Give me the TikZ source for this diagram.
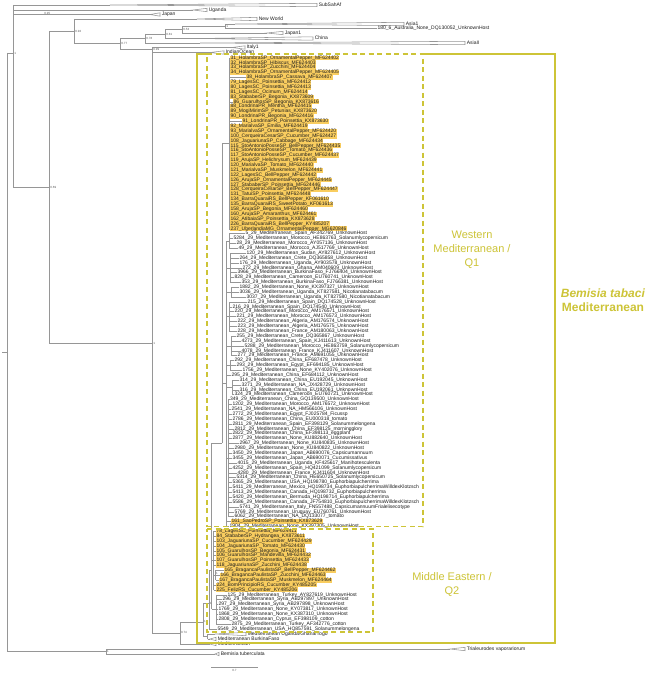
\documentclass[tikz,border=0pt]{standalone}
\usepackage{fontspec}
\setmainfont{Liberation Sans}
\usetikzlibrary{calc}
\definecolor{boxc}{RGB}{205,196,55}
\definecolor{hlc}{RGB}{249,205,95}
\definecolor{brc}{RGB}{150,150,150}
\definecolor{txc}{RGB}{30,30,30}
\tikzset{
  br/.style={draw=brc, line width=0.55pt},
  lab/.style={anchor=west, font=\fontsize{5}{5}\selectfont, text=txc, inner xsep=0.4pt, inner ysep=0pt, text height=3.65pt, text depth=1.25pt},
  hl/.style={lab, fill=hlc},
  suplab/.style={anchor=west, font=\fontsize{3}{3}\selectfont, text=brc!60!black, inner sep=0.2pt},
  cladetri/.style={draw=brc, line width=0.55pt, fill=white},
  solidbox/.style={draw=boxc, line width=1.4pt},
  dashbox/.style={draw=boxc, line width=1.4pt, dash pattern=on 5pt off 3.5pt},
  bigtext/.style={text=boxc, font=\fontsize{11}{14}\selectfont, align=center},
}
\newcommand\tip[6]{\node[#5] (#1) at (#3,{58+4.88*(#4-1)}) {#6};\draw[br] (#1.west -| #2) -- (#1.west);}
\newcommand\grp[4]{\draw[br] (#3.west -| #2) -- (#4.west -| #2);\coordinate (#1) at ($(#3.west -| #2)!.5!(#4.west -| #2)$);}
\newcommand\clade[5]{\coordinate (#1a) at (#2,#4);\node[lab] (#1) at ({#3+1.2},#4) {#5};\draw[cladetri] (#1a) -- ({#3},{#4-1.7}) -- ({#3},{#4+1.7}) -- cycle;}
\catcode`\_=12
\begin{document}
\begin{tikzpicture}[x=1pt,y=-1pt]
\useasboundingbox (0,0) rectangle (660,674);
\fill[white] (0,0) rectangle (660,674);
% ---------- top of tree ----------
\draw[br] (2,352) -- (7,352);
\draw[br] (7,53) -- (7,651.5);
\draw[br] (7,53) -- (13,53);
\node[suplab] at (14,53) {1};
\draw[br] (13,5) -- (13,187);
\clade{sub}{110}{317}{5}{SubSahAf}
\draw[br] (13,5) -- (suba);
\clade{uga}{193}{207}{10}{Uganda}
\draw[br] (13,10) -- (ugaa);
\clade{jap}{150}{160}{14.5}{Japan}
\draw[br] (13,14.5) -- (japa);
\node[suplab, anchor=south west] at (44,14.6) {0.95};
\draw[br] (13,187) -- (49,187);
\node[suplab] at (50,187) {0.69};
\draw[br] (49,31.4) -- (49,343);
\draw[br] (49,31.4) -- (74,31.4);
\node[suplab] at (75,31.4) {0.92};
\draw[br] (74,19) -- (74,43.75);
\clade{nw}{197}{257}{19}{New World}
\draw[br] (74,19) -- (nwa);
\draw[br] (74,43.75) -- (120,43.75);
\node[suplab] at (121,43.75) {0.77};
\draw[br] (120,38.5) -- (120,49);
\draw[br] (120,38.5) -- (145,38.5);
\node[suplab] at (146,38.5) {0.78};
\draw[br] (145,34) -- (145,43);
\clade{asb}{200}{465}{43}{AsiaII}
\draw[br] (145,43) -- (asba);
\draw[br] (145,34) -- (165,34);
\node[suplab] at (166,34) {0.81};
\draw[br] (165,29.6) -- (165,38.5);
\clade{chi}{200}{313}{38.5}{China}
\draw[br] (165,38.5) -- (chia);
\draw[br] (165,29.6) -- (182,29.6);
\node[suplab] at (183,29.6) {0.53};
\draw[br] (182,26.25) -- (182,33);
\clade{jpo}{267}{283}{33}{Japan1}
\draw[br] (182,33) -- (jpoa);
\draw[br] (182,26.25) -- (225,26.25);
\node[suplab] at (226,26.25) {1};
\draw[br] (225,24) -- (225,28.5);
\clade{aso}{235}{404}{24}{Asia1}
\draw[br] (225,24) -- (asoa);
\node[lab] (aus) at (377,28.5) {180_6_Australia_None_DQ130052_UnknownHost};
\draw[br] (225,28.5) -- (aus.west);
\draw[br] (120,49) -- (152,49);
\node[suplab] at (153,49.3) {0.99};
\draw[br] (152,47.5) -- (152,633);
\clade{ita}{232}{245}{47.5}{Italy1}
\draw[br] (152,47.5) -- (itaa);
\clade{ind}{210}{224}{52.5}{IndianOcean}
\draw[br] (152,52.5) -- (inda);
\draw[br] (49,343) -- (152,343);
\node[suplab] at (153,343) {1};
% ---------- vertical positions ----------
\coordinate (vA) at (229,0);
\coordinate (vB) at (226,0);
\coordinate (vC) at (222,0);
\coordinate (vD) at (211.5,0);
\coordinate (vE) at (213.5,0);
\coordinate (vF) at (215.5,0);
\coordinate (vG) at (216,0);
\coordinate (vH) at (209,0);
\coordinate (g1) at (229,0);
\coordinate (g2) at (230,0);
\coordinate (g3) at (231,0);
\coordinate (g4) at (229,0);
\coordinate (g5) at (231,0);
\coordinate (g6) at (230,0);
\coordinate (g7) at (232,0);
\coordinate (g8) at (228,0);
% ---------- Q1 highlighted ----------
\tip{r1}{vA}{230}{1}{hl}{31_HolambraSP_OrnamentalPepper_MF624402}
\tip{r2}{vA}{230}{2}{hl}{32_HolambraSP_Hibiscus_MF624403}
\tip{r3}{vA}{230}{3}{hl}{33_HolambraSP_Zucchini_MF624404}
\tip{r4}{vA}{230}{4}{hl}{34_HolambraSP_OrnamentalPepper_MF624405}
\tip{r5}{vA}{246}{5}{hl}{38_HolambraSP_Cassava_MF624407}
\tip{r6}{vA}{230}{6}{hl}{79_LagesSC_Poinsettia_MF624412}
\tip{r7}{vA}{230}{7}{hl}{80_LagesSC_Poinsettia_MF624413}
\tip{r8}{vA}{230}{8}{hl}{81_LagesSC_Ocimum_MF624414}
\tip{r9}{vA}{230}{9}{hl}{83_StababerSP_Begonia_KX873609}
\tip{r10}{vA}{233}{10}{hl}{86_GuarulhosSP_Begonia_KX873616}
\tip{r11}{vA}{230}{11}{hl}{88_LondrinaPR_Mentha_MF624415}
\tip{r12}{vA}{230}{12}{hl}{89_MogiMirimSP_Petunias_KX873620}
\tip{r13}{vA}{230}{13}{hl}{90_LondrinaPR_Begonia_MF624416}
\tip{r14}{vA}{242}{14}{hl}{91_LondrinaPR_Poinsettia_KX873630}
\tip{r15}{vA}{230}{15}{hl}{92_MarialvaSP_Emilia_MF624419}
\tip{r16}{vA}{230}{16}{hl}{93_MarialvaSP_OrnamentalPepper_MF624420}
\tip{r17}{vA}{230}{17}{hl}{100_CerqueiraCesarSP_Cucumber_MF624427}
\tip{r18}{vA}{230}{18}{hl}{108_JaguariunaSP_Cabbage_MF624434}
\tip{r19}{vA}{230}{19}{hl}{115_StoAntonioPosseSP_BellPepper_MF624435}
\tip{r20}{vA}{230}{20}{hl}{116_StoAntonioPosseSP_Tomato_MF624436}
\tip{r21}{vA}{230}{21}{hl}{117_StoAntonioPosseSP_Cucumber_MF624437}
\tip{r22}{vA}{230}{22}{hl}{119_ArujaSP_Helichrysum_MF624439}
\tip{r23}{vA}{230}{23}{hl}{120_MarialvaSP_Tomato_MF624440}
\tip{r24}{vA}{230}{24}{hl}{121_MarialvaSP_Muskmelon_MF624441}
\tip{r25}{vA}{230}{25}{hl}{122_LagesSC_BellPepper_MF624442}
\tip{r26}{vA}{230}{26}{hl}{126_ArujaSP_OrnamentalPepper_MF624445}
\tip{r27}{vA}{230}{27}{hl}{127_StababerSP_Poinsettia_MF624446}
\tip{r28}{vA}{230}{28}{hl}{128_CerqueiraCesarSP_BellPepper_MF624447}
\tip{r29}{vA}{230}{29}{hl}{131_TatuiSP_Poinsettia_MF624448}
\tip{r30}{vA}{230}{30}{hl}{134_BarraQuaraiRS_BellPepper_KF061610}
\tip{r31}{vA}{230}{31}{hl}{135_BarraQuaraiRS_SweetPotato_KF061613}
\tip{r32}{vA}{230}{32}{hl}{158_ArujaSP_Begonia_MF624460}
\tip{r33}{vA}{230}{33}{hl}{160_ArujaSP_Amaranthus_MF624461}
\tip{r34}{vA}{230}{34}{hl}{162_AtibaiaSP_Poinsettia_KX873628}
\tip{r35}{vA}{230}{35}{hl}{226_BarraQuaraiRS_BellPepper_KY485207}
\tip{r36}{vA}{230}{36}{hl}{237_UberlandiaMG_OrnamentalPepper_MG620846}
\grp{nA}{vA}{r1}{r36}
% ---------- Q1 others ----------
\tip{r37}{g1}{245}{37}{lab}{5_29_Mediterranean_Spain_AF342769_UnknownHost}
\tip{r38}{g1}{233}{38}{lab}{5284_29_Mediterranean_Morocco_HE863763_Solanumlycopersicum}
\tip{r39}{g1}{236}{39}{lab}{28_29_Mediterranean_Morocco_AY057136_UnknownHost}
\tip{r40}{g1}{238}{40}{lab}{49_29_Mediterranean_Morocco_AJ517769_UnknownHost}
\grp{n1}{g1}{r37}{r40}
\tip{r41}{g2}{246}{41}{lab}{120_29_Mediterranean_Sudan_AY827612_UnknownHost}
\tip{r42}{g2}{239}{42}{lab}{264_29_Mediterranean_Crete_DQ365858_UnknownHost}
\tip{r43}{g2}{239}{43}{lab}{176_29_Mediterranean_Uganda_AY903578_UnknownHost}
\tip{r44}{g2}{242}{44}{lab}{272_29_Mediterranean_Ghana_AM040609_UnknownHost}
\tip{r45}{g2}{237}{45}{lab}{3966_29_Mediterranean_BurkinaFaso_FJ766404_UnknownHost}
\tip{r46}{g2}{234}{46}{lab}{828_29_Mediterranean_Cameroon_EU760741_UnknownHost}
\tip{r47}{g2}{241}{47}{lab}{353_29_Mediterranean_BurkinaFaso_FJ766381_UnknownHost}
\grp{n2}{g2}{r41}{r47}
\tip{r48}{g3}{239}{48}{lab}{1882_29_Mediterranean_None_KX397327_UnknownHost}
\tip{r49}{g3}{239}{49}{lab}{3036_29_Mediterranean_Uganda_KT827581_Nicotianatabacum}
\tip{r50}{g3}{246}{50}{lab}{3037_29_Mediterranean_Uganda_KT827580_Nicotianatabacum}
\grp{n3}{g3}{r48}{r50}
\tip{r51}{g4}{247}{51}{lab}{215_29_Mediterranean_Spain_DQ174528_UnknownHost}
\tip{r52}{g4}{232}{52}{lab}{216_29_Mediterranean_Spain_DQ174540_UnknownHost}
\tip{r53}{g4}{234}{53}{lab}{220_29_Mediterranean_Morocco_AM176571_UnknownHost}
\tip{r54}{g4}{236}{54}{lab}{221_29_Mediterranean_Morocco_AM176573_UnknownHost}
\tip{r55}{g4}{237}{55}{lab}{222_29_Mediterranean_Algeria_AM176574_UnknownHost}
\tip{r56}{g4}{237}{56}{lab}{223_29_Mediterranean_Algeria_AM176575_UnknownHost}
\tip{r57}{g4}{237}{57}{lab}{228_29_Mediterranean_France_AM180063_UnknownHost}
\grp{n4}{g4}{r51}{r57}
\tip{r58}{g5}{236}{58}{lab}{255_29_Mediterranean_Crete_DQ365867_UnknownHost}
\tip{r59}{g5}{241}{59}{lab}{4273_29_Mediterranean_Spain_KJ411613_UnknownHost}
\tip{r60}{g5}{244}{60}{lab}{5288_29_Mediterranean_Morocco_HE863759_Solanumlycopersicum}
\tip{r61}{g5}{241}{61}{lab}{4078_29_Mediterranean_France_KJ411607_UnknownHost}
\tip{r62}{g5}{237}{62}{lab}{277_29_Mediterranean_France_AM691055_UnknownHost}
\grp{n5}{g5}{r58}{r62}
\tip{r63}{g6}{234}{63}{lab}{292_29_Mediterranean_China_EF687478_UnknownHost}
\tip{r64}{g6}{236}{64}{lab}{293_29_Mediterranean_Egypt_EF694185_UnknownHost}
\tip{r65}{g6}{242}{65}{lab}{1756_29_Mediterranean_None_KY402076_UnknownHost}
\grp{n6}{g6}{r63}{r65}
\tip{r66}{vB}{231}{66}{lab}{295_29_Mediterranean_China_EF684112_UnknownHost}
\tip{r67}{g7}{239}{67}{lab}{314_29_Mediterranean_China_EU192045_UnknownHost}
\tip{r68}{g7}{241}{68}{lab}{3271_29_Mediterranean_NA_JX428729_UnknownHost}
\tip{r69}{g7}{239}{69}{lab}{316_29_Mediterranean_China_EU192061_UnknownHost}
\tip{r70}{g7}{234}{70}{lab}{324_29_Mediterranean_Cameroon_EU760721_UnknownHost}
\grp{n7}{g7}{r67}{r70}
\tip{r71}{g8}{229.5}{71}{lab}{349_29_Mediterranean_China_GQ139500_UnknownHost}
\tip{r72}{g8}{232}{72}{lab}{1202_29_Mediterranean_Morocco_AM176572_UnknownHost}
\tip{r73}{g8}{231}{73}{lab}{2541_29_Mediterranean_NA_HM566106_UnknownHost}
\tip{r74}{g8}{232}{74}{lab}{2772_29_Mediterranean_Egypt_FJ025784_Ficussp}
\tip{r75}{g8}{232}{75}{lab}{2786_29_Mediterranean_China_EU000318_tomato}
\tip{r76}{g8}{232}{76}{lab}{2811_29_Mediterranean_Spain_EF398129_Solanummelongena}
\tip{r77}{g8}{234}{77}{lab}{2812_29_Mediterranean_China_EF398125_morningglory}
\tip{r78}{g8}{232}{78}{lab}{2822_29_Mediterranean_China_EF398113_eggplant}
\tip{r79}{g8}{232}{79}{lab}{2877_29_Mediterranean_None_KU882640_UnknownHost}
\tip{r80}{g8}{239}{80}{lab}{2967_29_Mediterranean_None_KU840835_UnknownHost}
\tip{r81}{g8}{234}{81}{lab}{2980_29_Mediterranean_None_KU840822_UnknownHost}
\tip{r82}{g8}{232}{82}{lab}{3450_29_Mediterranean_Japan_AB690076_Capsicumannuum}
\tip{r83}{g8}{232}{83}{lab}{3455_29_Mediterranean_Japan_AB690071_Cucumissativus}
\tip{r84}{g8}{237}{84}{lab}{4015_29_Mediterranean_Uganda_KF425617_Manihotesculenta}
\tip{r85}{g8}{232}{85}{lab}{4252_29_Mediterranean_Spain_HQ421099_Solanumlycopersicum}
\tip{r86}{g8}{237}{86}{lab}{4280_29_Mediterranean_France_KJ411604_UnknownHost}
\tip{r87}{g8}{236}{87}{lab}{5314_29_Mediterranean_China_HE650725_Solanumlycopersicum}
\tip{r88}{g8}{232}{88}{lab}{5365_29_Mediterranean_USA_HQ198780_Euphorbiapulcherrima}
\tip{r89}{g8}{232}{89}{lab}{5411_29_Mediterranean_Mexico_HQ198734_EuphorbiapulcherrimaWilldexKlotzsch}
\tip{r90}{g8}{232}{90}{lab}{5413_29_Mediterranean_Canada_HQ198732_Euphorbiapulcherrima}
\tip{r91}{g8}{232}{91}{lab}{5420_29_Mediterranean_Bermuda_HQ198714_Euphorbiapulcherrima}
\tip{r92}{g8}{232}{92}{lab}{5586_29_Mediterranean_Canada_JF754810_EuphorbiapulcherrimaWilldexKlotzsch}
\tip{r93}{g8}{239}{93}{lab}{5741_29_Mediterranean_Italy_FN557488_CapsicumannuumFrialelisecotype}
\tip{r94}{g8}{234}{94}{lab}{5769_29_Mediterranean_Uruguay_EU760761_UnknownHost}
\tip{r95}{g8}{234}{95}{lab}{6062_29_Mediterranean_NA_DQ133077_tomato}
\grp{n8}{g8}{r71}{r95}
\tip{r96}{vB}{231}{96}{hl}{161_SaoPedroSP_Poinsettia_KX873629}
\tip{r97}{vB}{229}{97}{lab}{1904_29_Mediterranean_None_KX397305_UnknownHost}
\foreach \g in {n1,n2,n3,n4,n5,n6,n7,n8} {\draw[br] (\g -| vB) -- (\g);}
\draw[br] (n1 -| vB) -- (r97.west -| vB);
\coordinate (nB) at ($(n1 -| vB)!.5!(r97.west -| vB)$);
\coordinate (jQ) at (222,443);
\draw[br] (nA -| vC) -- (jQ);
\draw[br] (nA -| vC) -- (nA);
\draw[br] (nB -| vC) -- (nB);
% ---------- Q2 ----------
\tip{r98}{vE}{216}{98}{hl}{78_LagesSC_Poinsettia_MF624411}
\tip{r99}{vE}{216}{99}{hl}{84_StababerSP_Hydrangea_KX873611}
\tip{r100}{vE}{216}{100}{hl}{103_JaguariunaSP_Cucumber_MF624429}
\tip{r101}{vE}{216}{101}{hl}{104_JaguariunaSP_Tomato_MF624430}
\tip{r102}{vE}{216}{102}{hl}{105_GuarulhosSP_Begonia_MF624431}
\tip{r103}{vE}{216}{103}{hl}{106_GuarulhosSP_Mandevilla_MF624432}
\tip{r104}{vE}{216}{104}{hl}{107_GuarulhosSP_Poinsettia_MF624433}
\tip{r105}{vE}{216}{105}{hl}{118_JaguariunaSP_Zucchini_MF624438}
\tip{r106}{vF}{224}{106}{hl}{165_BragancaPaulistaSP_BellPepper_MF624462}
\tip{r107}{vF}{220}{107}{hl}{166_BragancaPaulistaSP_Zucchini_MF624463}
\tip{r108}{vF}{219}{108}{hl}{167_BragancaPaulistaSP_Muskmelon_MF624464}
\tip{r109}{vE}{216}{109}{hl}{224_BomPrincipioRS_Cucumber_KY485205}
\tip{r110}{vE}{216}{110}{hl}{225_FelizRS_Cucumber_KY485206}
\grp{nF}{vF}{r106}{r108}
\draw[br] (nF -| vE) -- (nF);
\node[suplab, anchor=south west] at ($(nF)+(0.2,0)$) {1};
\grp{nE}{vE}{r98}{r110}
\tip{r111}{vG}{227}{111}{lab}{125_29_Mediterranean_Turkey_AY827619_UnknownHost}
\tip{r112}{vG}{222}{112}{lab}{296_29_Mediterranean_Syria_AB297897_UnknownHost}
\tip{r113}{vG}{218}{113}{lab}{297_29_Mediterranean_Syria_AB297898_UnknownHost}
\tip{r114}{vG}{218}{114}{lab}{1769_29_Mediterranean_None_KY073817_UnknownHost}
\tip{r115}{vG}{218}{115}{lab}{1868_29_Mediterranean_None_KX387310_UnknownHost}
\tip{r116}{vG}{218}{116}{lab}{2808_29_Mediterranean_Cyprus_EF398109_cotton}
\tip{r117}{vG}{231}{117}{lab}{2875_29_Mediterranean_Turkey_AF342776_cotton}
\grp{nG}{vG}{r111}{r117}
\tip{r118}{vH}{217}{118}{lab}{5549_29_Mediterranean_USA_HQ857591_Solanummelongena}
\draw[br] (jQ -| vD) -- (jQ);
\draw[br] (jQ -| vD) -- (nG -| vD);
\draw[br] (nE -| vD) -- (nE);
\draw[br] (nG -| vD) -- (nG);
\coordinate (jH) at (209,570);
\draw[br] (jH) -- (jH -| vD);
\draw[br] (jH) -- (r118.west -| vH);
% ---------- lower part ----------
\draw[br] (203,603) -- (209,603);
\node[suplab] at (209.4,603) {1};
\draw[br] (203,603) -- (203,636.5);
\draw[br] (180,622) -- (203,622);
\node[suplab] at (203.6,621.6) {1};
\draw[br] (203,636.5) -- (207.5,636.5);
\draw[br] (207.5,634) -- (207.5,639);
\clade{ugt}{215}{246}{634}{Mediterranean Uganda/Ghana/Togo}
\draw[br] (207.5,634) -- (ugta);
\clade{bfa}{210}{216}{639}{Mediterranean BurkinaFaso}
\draw[br] (207.5,639) -- (bfaa);
\draw[br] (152,633) -- (180,633);
\node[suplab] at (180.6,632.4) {0.74};
\draw[br] (180,622) -- (180,644);
\clade{mdh}{210}{216}{644}{Mediterranean}
\draw[br] (180,644) -- (mdha);
% outgroups
\draw[br] (7,651.5) -- (106,651.5);
\node[suplab] at (106.6,651.5) {1};
\draw[br] (106,649) -- (106,654);
\clade{tri}{450}{465}{649}{Trialeurodes vaporariorum}
\draw[br] (106,649) -- (tria);
\clade{btu}{215}{219}{654}{Bemisia tuberculata}
\draw[br] (106,654) -- (btua);
% scale bar
\coordinate (sb1) at (211,667);
\coordinate (sb2) at (258,667);
\draw[br] (sb1) -- (sb2);
\node[suplab, anchor=north] (sbl) at ($(sb1)!.5!(sb2)+(0,1.5)$) {0.7};
% ---------- boxes ----------
\draw[solidbox] (423,54) -- (555,54) -- (555,643) -- (197,643) -- (197,54) -- (207,54);
\draw[dashbox] (207,54) -- (423,54) -- (423,526.5) -- (207,526.5) -- cycle;
\draw[dashbox] (207,529) -- (373,529) -- (373,632) -- (207,632) -- cycle;
\node[bigtext] (wm) at (472,250) {Western\\Mediterranean /\\Q1};
\node[bigtext] (me) at (452,585) {Middle Eastern /\\Q2};
\node[text=boxc, font=\fontsize{12}{14}\selectfont\bfseries, align=center] (bt) at (603,300) {\textit{Bemisia tabaci}\\Mediterranean};
\end{tikzpicture}
\end{document}
